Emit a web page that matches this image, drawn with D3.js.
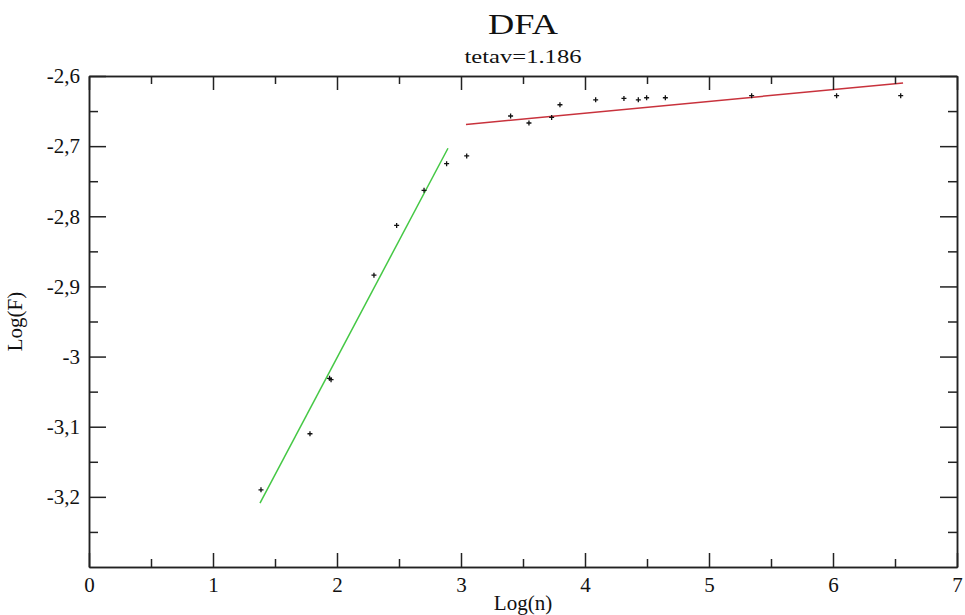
<!DOCTYPE html>
<html>
<head>
<meta charset="utf-8">
<script src="https://cdn.jsdelivr.net/npm/d3@7"></script>
<style>
  html, body { margin: 0; padding: 0; background: #fff; }
  svg { display: block; }
  text { font-family: "Liberation Serif", "Times New Roman", serif; fill: #111; }
</style>
</head>
<body>
<svg id="chart" width="965" height="615"></svg>
<script>
// ---- data ----
const pointX = [1.387, 1.782, 1.940, 1.952, 2.298, 2.481, 2.702, 2.884, 3.046,
                3.400, 3.548, 3.731, 3.798, 4.086, 4.314, 4.430, 4.497, 4.648,
                5.344, 6.029, 6.546];
const pointY = [-3.190, -3.110, -3.031, -3.033, -2.884, -2.813, -2.763, -2.725, -2.714,
                -2.657, -2.667, -2.659, -2.641, -2.634, -2.632, -2.634, -2.631, -2.631,
                -2.628, -2.628, -2.628];
const greenFitX = [1.379, 2.895];
const greenFitY = [-3.209, -2.703];
const redFitX = [3.040, 6.565];
const redFitY = [-2.669, -2.610];
const xTickValues = [0, 1, 2, 3, 4, 5, 6, 7];
const xTickLabels = ["0", "1", "2", "3", "4", "5", "6", "7"];
const yTickValues = [-2.6, -2.7, -2.8, -2.9, -3.0, -3.1, -3.2];
const yTickLabels = ["-2,6", "-2,7", "-2,8", "-2,9", "-3", "-3,1", "-3,2"];
const xMinorValues = [0.5, 1.5, 2.5, 3.5, 4.5, 5.5, 6.5];
const yMinorValues = [-2.65, -2.75, -2.85, -2.95, -3.05, -3.15, -3.25];
const titleText = "DFA";
const subtitleText = "tetav=1.186";
const xAxisTitle = "Log(n)";
const yAxisTitle = "Log(F)";

// ---- layout ----
const svg = d3.select("#chart");
const mLeft = 89, mRight = 957, mTop = 76, mBottom = 567;
const x = d3.scaleLinear().domain([0, 7]).range([mLeft, mRight]);
const y = d3.scaleLinear().domain([-3.3, -2.6]).range([mBottom, mTop]);
const axisColor = "#222";
const serif = '"Liberation Serif", "Times New Roman", serif';

// fit lines
const line = d3.line().x(d => x(d[0])).y(d => y(d[1]));
svg.append("path")
  .datum(d3.zip(greenFitX, greenFitY))
  .attr("d", line).attr("fill", "none")
  .attr("stroke", "#45c845").attr("stroke-width", 1.5);
svg.append("path")
  .datum(d3.zip(redFitX, redFitY))
  .attr("d", line).attr("fill", "none")
  .attr("stroke", "#c8323c").attr("stroke-width", 1.5);

// points (plus markers)
const pts = d3.zip(pointX, pointY);
svg.append("g").selectAll("path").data(pts).join("path")
  .attr("d", d => {
    const cx = x(d[0]), cy = y(d[1]), s = 2.5;
    return `M${cx - s},${cy}H${cx + s}M${cx},${cy - s}V${cy + s}`;
  })
  .attr("stroke", "#111").attr("stroke-width", 1.3).attr("fill", "none");

// axes: bottom/top/left/right with inward ticks
function drawAxis(axisGen, transform) {
  const g = svg.append("g").attr("transform", transform).call(axisGen);
  g.attr("font-family", serif);
  g.selectAll("path.domain").attr("stroke", axisColor).attr("stroke-width", 1.5);
  g.selectAll(".tick line").attr("stroke", axisColor).attr("stroke-width", 1.5);
  g.selectAll("text").style("font-family", serif).attr("fill", "#111");
  return g;
}
const fmtX = d => xTickLabels[xTickValues.indexOf(d)];
const fmtY = d => yTickLabels[yTickValues.findIndex(v => Math.abs(v - d) < 1e-9)];

// bottom major
const gb = drawAxis(d3.axisBottom(x).tickValues(xTickValues).tickSize(-14).tickSizeOuter(0).tickPadding(10).tickFormat(fmtX),
  `translate(0,${mBottom})`);
gb.selectAll("text").attr("font-size", 21);
drawAxis(d3.axisBottom(x).tickValues(xMinorValues).tickSize(-8).tickSizeOuter(0).tickFormat(""), `translate(0,${mBottom})`);
// top
drawAxis(d3.axisTop(x).tickValues(xTickValues).tickSize(-14).tickSizeOuter(0).tickFormat(""), `translate(0,${mTop})`);
drawAxis(d3.axisTop(x).tickValues(xMinorValues).tickSize(-8).tickSizeOuter(0).tickFormat(""), `translate(0,${mTop})`);
// left
const gl = drawAxis(d3.axisLeft(y).tickValues(yTickValues).tickSize(-17).tickSizeOuter(0).tickPadding(9).tickFormat(fmtY),
  `translate(${mLeft},0)`);
gl.selectAll("text").attr("font-size", 21);
drawAxis(d3.axisLeft(y).tickValues(yMinorValues).tickSize(-9).tickSizeOuter(0).tickFormat(""), `translate(${mLeft},0)`);
// right
drawAxis(d3.axisRight(y).tickValues(yTickValues).tickSize(-17).tickSizeOuter(0).tickFormat(""), `translate(${mRight},0)`);
drawAxis(d3.axisRight(y).tickValues(yMinorValues).tickSize(-9).tickSizeOuter(0).tickFormat(""), `translate(${mRight},0)`);

// titles
const cx = (mLeft + mRight) / 2;
svg.append("text").attr("x", cx).attr("y", 34)
  .attr("text-anchor", "middle").attr("font-size", 30)
  .attr("textLength", 70).attr("lengthAdjust", "spacingAndGlyphs").text(titleText);
svg.append("text").attr("x", cx).attr("y", 63)
  .attr("text-anchor", "middle").attr("font-size", 18.5)
  .attr("textLength", 117).attr("lengthAdjust", "spacingAndGlyphs").text(subtitleText);
svg.append("text").attr("x", cx).attr("y", 610)
  .attr("text-anchor", "middle").attr("font-size", 21).text(xAxisTitle);
svg.append("text").attr("transform", `translate(22,${(mTop + mBottom) / 2}) rotate(-90)`)
  .attr("text-anchor", "middle").attr("font-size", 21).text(yAxisTitle);
</script>
</body>
</html>
